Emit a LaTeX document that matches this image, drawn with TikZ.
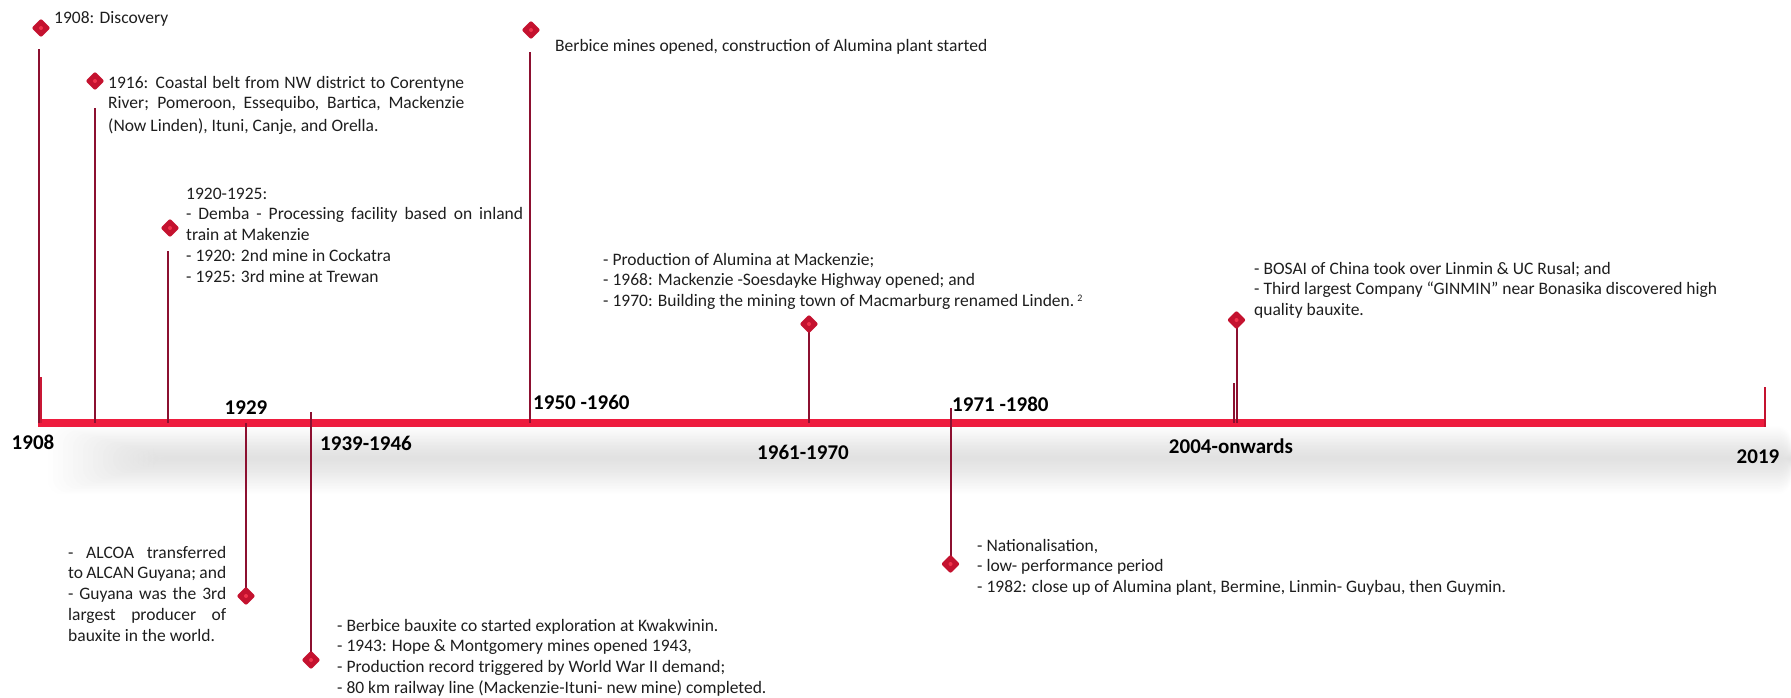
\documentclass[tikz,border=0pt]{standalone}
\usepackage{fontspec}
\setmainfont{Carlito}
\usetikzlibrary{shapes.geometric}

\definecolor{barred}{HTML}{EE1C3E}
\definecolor{stemred}{HTML}{8C1030}
\definecolor{gemred}{HTML}{C4122F}
\definecolor{gemdot}{HTML}{F0344C}
\definecolor{inktext}{HTML}{1E1E1E}

\pgfdeclarelayer{below}
\pgfsetlayers{below,main}

% a justified line of given width
\newcommand{\jline}[2]{\makebox[#1][s]{#2}}
% small raised note mark
\newcommand{\notemark}[1]{{\fontsize{10}{10}\selectfont\raisebox{5pt}{#1}}}

\tikzset{
  gem/.style={diamond, fill=gemred, minimum width=19pt, minimum height=19pt,
    inner sep=0pt, rounded corners=2pt,
    path picture={\fill[gemdot] (path picture bounding box.center) circle (2pt);}},
  stem/.style={draw=stemred, line width=2pt},
  axisbar/.style={draw=barred, line width=8pt},
  note/.style={anchor=base west, inner sep=0pt, text=inktext,
    font=\fontsize{17.5}{20.8}\selectfont},
  period/.style={inner sep=0pt, text=black, font=\fontsize{21}{21}\selectfont\bfseries},
}

\begin{document}
\begin{tikzpicture}[x=1pt,y=-1pt]
\useasboundingbox (0,0) rectangle (1791,697);

% axis end points and stem tops
\coordinate (b0) at (38,423);
\coordinate (b1) at (1766,423);
\coordinate (top1908) at (39,49);
\coordinate (top1916) at (95,108);
\coordinate (top1920) at (168,251);
\coordinate (top1950) at (530,52);
\coordinate (top1939) at (311,412);
\coordinate (top1971) at (950.5,408);
\coordinate (tick1908) at (40.5,377);
\coordinate (tick2004) at (1234,383);
\coordinate (endtop) at (1765,387);
\coordinate (endbot) at (1765,427);

% event markers
\node[gem] (d1908) at (41,28) {};
\node[gem] (d1916) at (95,81) {};
\node[gem] (d1920) at (170,228) {};
\node[gem] (d1950) at (531,30) {};
\node[gem] (d1961) at (809,324) {};
\node[gem] (d2004) at (1236.5,320) {};
\node[gem] (d1929) at (246,596) {};
\node[gem] (d1939) at (311,660) {};
\node[gem] (d1971) at (950.5,564) {};

\begin{pgfonlayer}{below}
  % soft shadow under the axis
  \foreach \k in {0,...,21}
    \fill[gray, opacity=0.01, rounded corners=14pt]
      (48+5*\k, 426+1.45*\k) rectangle (1791, 494-1.6*\k);
  % the axis
  \draw[axisbar] (b0) -- (b1);
  \draw[gemred, line width=2pt] (endtop) -- (endbot);
  \draw[barred!85!black, line width=2pt] (tick1908) -- (tick1908 |- b0);
  \draw[stem] (tick2004) -- (tick2004 |- b0);
  % stems
  \draw[stem] (top1908) -- (top1908 |- b0);
  \draw[stem] (top1916) -- (top1916 |- b0);
  \draw[stem] (top1920) -- (top1920 |- b0);
  \draw[stem] (top1950) -- (top1950 |- b0);
  \draw[stem] (d1961.center) -- (d1961.center |- b0);
  \draw[stem] (d2004.center) -- (d2004.center |- b0);
  \draw[stem] (d1929.center |- b0) -- (d1929.center);
  \draw[stem] (top1939) -- (d1939.center);
  \draw[stem] (top1971) -- (d1971.center);
\end{pgfonlayer}

% period labels on the axis
\node[period] (l1908) at (33,442) {1908};
\node[period] (l1929) at (246,408) {1929};
\node[period] (l1939) at (366,443) {1939-1946};
\node[period, anchor=west] (l1950) at (533,402) {1950 -1960};
\node[period] (l1961) at (803,452) {1961-1970};
\node[period, anchor=west] (l1971) at (952,404) {1971 -1980};
\node[period] (l2004) at (1231,446) {2004-onwards};
\node[period] (l2019) at (1758,457) {2019};

% event descriptions
\node[note] (t1908) at (54,23) {1908: Discovery};

\node[note] (t1916) at (108,88) {\parbox[t]{380pt}{%
  \jline{356pt}{1916: Coastal belt from NW district to Corentyne}\\
  \jline{356pt}{River; Pomeroon, Essequibo, Bartica, Mackenzie}\\[2pt]
  (Now Linden), Ituni, Canje, and Orella.}};

\node[note] (t1920) at (186,199) {\parbox[t]{360pt}{%
  1920-1925:\\
  \jline{337pt}{- Demba - Processing facility based on inland}\\
  train at Makenzie\\
  - 1920: 2nd mine in Cockatra\\
  - 1925: 3rd mine at Trewan}};

\node[note] (t1950) at (555,51) {Berbice mines opened, construction of Alumina plant started};

\node[note] (t1961) at (603,265) {\parbox[t]{520pt}{%
  - Production of Alumina at Mackenzie;\\
  - 1968: Mackenzie -Soesdayke Highway opened; and\\
  - 1970: Building the mining town of Macmarburg renamed Linden.\,\notemark{2}}};

\node[note] (t2004) at (1254,274) {\parbox[t]{500pt}{%
  - BOSAI of China took over Linmin \& UC Rusal; and\\
  - Third largest Company “GINMIN” near Bonasika discovered high\\
  quality bauxite.}};

\node[note] (t1929) at (68,558) {\parbox[t]{170pt}{%
  \jline{158pt}{- ALCOA transferred}\\
  \jline{158pt}{to ALCAN Guyana; and}\\
  \jline{158pt}{- Guyana was the 3rd}\\
  \jline{158pt}{largest producer of}\\
  bauxite in the world.}};

\node[note] (t1939) at (337,631) {\parbox[t]{500pt}{%
  - Berbice bauxite co started exploration at Kwakwinin.\\
  - 1943: Hope \& Montgomery mines opened 1943,\\
  - Production record triggered by World War II demand;\\
  - 80 km railway line (Mackenzie-Ituni- new mine) completed.}};

\node[note] (t1971) at (977,551) {\parbox[t]{600pt}{%
  - Nationalisation,\\
  - low- performance period\\
  - 1982: close up of Alumina plant, Bermine, Linmin- Guybau, then Guymin.}};
\end{tikzpicture}
\end{document}
